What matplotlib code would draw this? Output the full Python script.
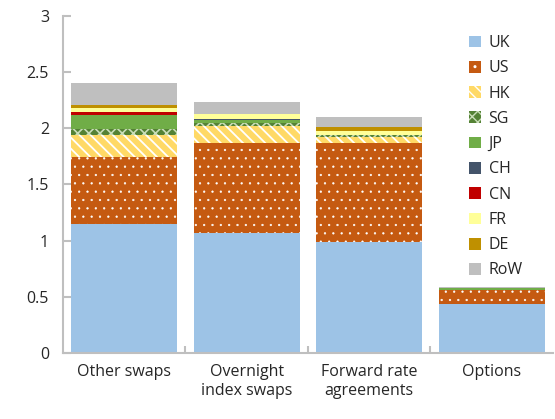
import numpy as np
import matplotlib
matplotlib.use("Agg")
import matplotlib.pyplot as plt

plt.rcParams["font.family"] = ["Open Sans", "DejaVu Sans"]

categories = ["Other swaps", "Overnight\nindex swaps", "Forward rate\nagreements", "Options"]
countries = ["UK", "US", "HK", "SG", "JP", "CH", "CN", "FR", "DE", "RoW"]

# turnover by counterparty location, stacked in legend order
uk = [1.15, 1.07, 0.99, 0.44]
us = [0.59, 0.80, 0.88, 0.12]
hk = [0.20, 0.15, 0.05, 0.00]
sg = [0.055, 0.03, 0.02, 0.005]
jp = [0.125, 0.02, 0.00, 0.01]
ch = [0.00, 0.015, 0.00, 0.00]
cn = [0.026, 0.00, 0.00, 0.00]
fr = [0.034, 0.045, 0.04, 0.005]
de = [0.03, 0.00, 0.03, 0.00]
row = [0.19, 0.10, 0.09, 0.01]
series = [uk, us, hk, sg, jp, ch, cn, fr, de, row]

styles = [
    dict(color="#9DC3E6"),
    dict(color="#C55A11", edgecolor="white", hatch="..", hlw=0.4),
    dict(color="#FFD966", edgecolor="white", hatch="\\\\\\", hlw=1.3),
    dict(color="#548235", edgecolor="#C9DDB8", hatch="xxx", hlw=1.2),
    dict(color="#70AD47"),
    dict(color="#44546A"),
    dict(color="#C00000"),
    dict(color="#FFFF99"),
    dict(color="#BF9000"),
    dict(color="#BFBFBF"),
]

fig = plt.figure(figsize=(5.55, 4.19), dpi=100)
ax = fig.add_axes([0.1135, 0.1575, 0.8825, 0.8045])

x = np.arange(len(categories))
bottom = np.zeros(len(categories))
for name, vals, st in zip(countries, series, styles):
    vals = np.array(vals)
    st = dict(st)
    face = st.pop("color")
    hlw = st.pop("hlw", 1.0)
    with plt.rc_context({"hatch.linewidth": hlw}):
        ax.bar(x, vals, width=0.865, bottom=bottom, facecolor=face,
               linewidth=0, label=name, **st)
    bottom += vals

ax.set_xlim(-0.5, 3.5)
ax.set_ylim(0, 3)
ax.set_yticks(np.arange(0, 3.01, 0.5))
ax.set_yticklabels(["0", "0.5", "1", "1.5", "2", "2.5", "3"])
ax.set_xticks(x)
ax.set_xticklabels(categories)
ax.set_xticks([0.5, 1.5, 2.5], minor=True)

for side in ["top", "right"]:
    ax.spines[side].set_visible(False)
for side in ["left", "bottom"]:
    ax.spines[side].set_color("#BFBFBF")
    ax.spines[side].set_linewidth(1.5)

ax.tick_params(axis="y", direction="in", length=6, width=1.5, color="#BFBFBF",
               labelsize=11.5, labelcolor="#262626", pad=10)
ax.tick_params(axis="x", which="major", length=0, labelsize=11.5,
               labelcolor="#262626", pad=8)
ax.tick_params(axis="x", which="minor", direction="in", length=5, width=1.5,
               color="#BFBFBF")

leg = ax.legend(loc="upper left", bbox_to_anchor=(0.815, 0.962), frameon=False,
                fontsize=11.5, handlelength=0.75, handleheight=0.75,
                handletextpad=0.5, labelspacing=0.58, borderaxespad=0)
for t in leg.get_texts():
    t.set_color("#262626")

fig.savefig("out.png", dpi=100)
